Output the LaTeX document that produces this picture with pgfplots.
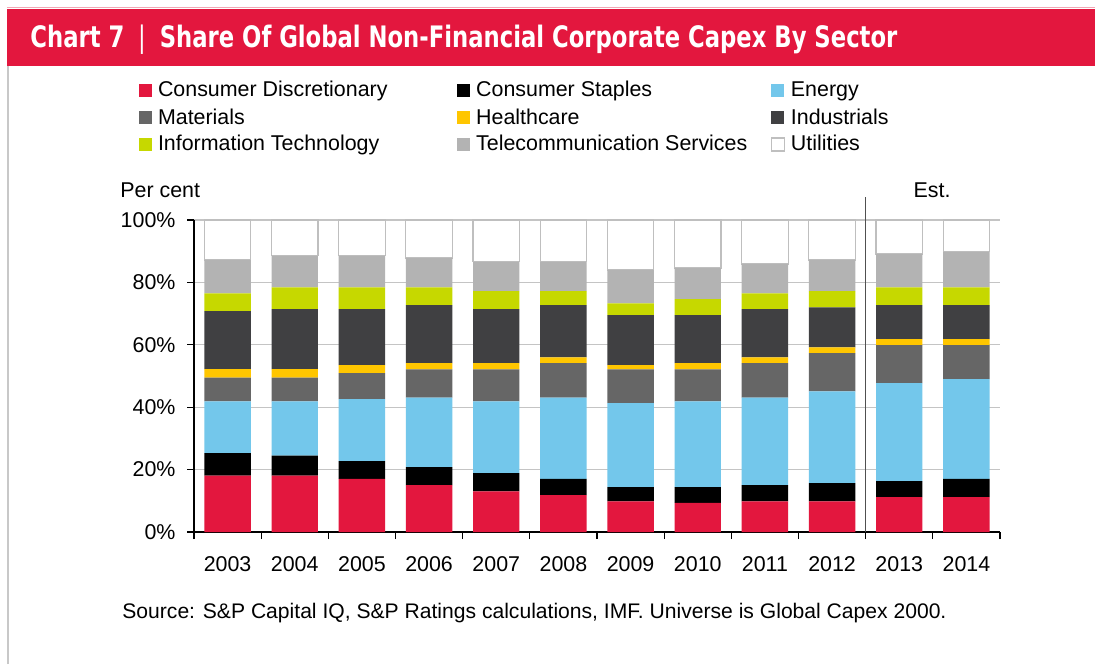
\documentclass[border=0pt]{standalone}
\usepackage{pgfplots}
\pgfplotsset{compat=1.18}
\usepackage{pgfplotstable}
\usepackage{fontspec}
\setmainfont{Liberation Sans}
\newfontfamily\titlefont{DejaVu Sans Condensed}

\definecolor{banner}{HTML}{E3173E}
\definecolor{pinkline}{HTML}{F3A6B4}
\definecolor{framegrey}{HTML}{C8C8C8}
\definecolor{cd}{HTML}{E3173E}
\definecolor{cs}{HTML}{000000}
\definecolor{en}{HTML}{73C7EB}
\definecolor{mat}{HTML}{666666}
\definecolor{hc}{HTML}{FFC600}
\definecolor{ind}{HTML}{404042}
\definecolor{it}{HTML}{C6D800}
\definecolor{tel}{HTML}{B3B3B3}
\definecolor{utilgrey}{HTML}{BFBFBF}
\definecolor{gridgrey}{HTML}{C4C4C4}
\definecolor{sepline}{HTML}{505050}

\pgfplotstableread{
x  CD   CS  En   Mat  HC  Ind  IT  Tel  Util
0  18.1 7.2 16.6 7.6  2.7 18.6 5.7 10.7 12.8
1  18.1 6.4 17.4 7.6  2.7 19.2 7.0 10.1 11.5
2  17.0 5.7 19.9 8.3  2.6 17.9 7.0 10.1 11.5
3  15.0 5.8 22.3 9.0  2.0 18.6 5.7 9.4  12.2
4  13.0 5.9 23.0 10.2 2.0 17.3 5.8 9.4  13.4
5  11.8 5.2 26.1 11.0 1.9 16.7 4.5 9.4  13.4
6  9.8  4.6 26.9 10.8 1.4 16.0 3.8 10.7 16.0
7  9.3  5.1 27.5 10.2 2.0 15.4 5.1 10.0 15.4
8  9.8  5.2 28.1 11.0 1.9 15.4 5.1 9.4  14.1
9  9.8  5.9 29.4 12.2 1.9 12.8 5.2 10.0 12.8
10 11.2 5.1 31.4 12.2 1.9 10.9 5.7 10.7 10.9
11 11.2 5.8 32.0 10.9 1.9 10.9 5.7 11.4 10.2
}\capex

\pgfplotsset{
  sqleg/.style={legend image code/.code={\path[##1] (0pt,0pt) rectangle (6.5pt,6.5pt);}},
}

\begin{document}
\fontsize{10.7pt}{12.8pt}\selectfont
\begin{tikzpicture}
\useasboundingbox (0,0) rectangle (547.5pt,332pt);
\fill[white] (0,0) rectangle (547.5pt,332pt);
\fill[banner] (3.5pt,299pt) rectangle (547.5pt,327.5pt);
\draw[pinkline, line width=0.5pt] (3.5pt,328pt) -- (547.5pt,328pt);
\draw[framegrey, line width=1pt] (3.75pt,0pt) -- (3.75pt,299pt);
\node[anchor=base west, inner sep=0pt, text=white] at (15pt,308pt)
  {\scalebox{1}[1.17]{\resizebox{433.5pt}{!}{\titlefont\bfseries\fontsize{14pt}{16pt}\selectfont Chart 7\hspace{0.55em}{\mdseries|}\hspace{0.55em}Share Of Global Non-Financial Corporate Capex By Sector}}};

\begin{axis}[
  at={(97pt,66pt)}, anchor=south west,
  scale only axis, width=403pt, height=156pt,
  ybar stacked, bar width=23.2pt,
  xmin=-0.5, xmax=11.5, ymin=0, ymax=100,
  axis x line*=bottom, axis y line*=left,
  axis line style={black, line width=0.8pt},
  tick align=outside,
  xtick={0,...,11},
  xticklabels={2003,2004,2005,2006,2007,2008,2009,2010,2011,2012,2013,2014},
  xticklabel style={yshift=-5pt},
  major x tick style={draw=none},
  minor xtick={-0.5,0.5,...,11.5},
  minor x tick style={black, line width=0.6pt},
  ytick={0,20,...,100},
  yticklabels={0\%,20\%,40\%,60\%,80\%,100\%},
  yticklabel style={xshift=-2pt},
  y tick style={black, line width=0.6pt},
  major tick length=3.5pt, minor tick length=3.5pt,
  ymajorgrids, grid style={gridgrey, line width=0.6pt},
  clip=false,
  legend columns=3,
  legend cell align=left,
  legend style={
    at={(-0.0682,1.4455)}, anchor=north west,
    draw=none, fill=none, inner sep=0pt, outer sep=0pt,
    row sep=3pt,
    nodes={inner sep=0pt, text height=8pt, text depth=2.5pt, anchor=base west},
    /tikz/every odd column/.append style={column sep=3pt},
    /tikz/column 2/.style={column sep=34.8pt},
    /tikz/column 4/.style={column sep=11.7pt},
  },
]
\addplot[sqleg, fill=cd, draw=none] table[x=x, y=CD] {\capex};
\addlegendentry{Consumer Discretionary}
\addplot[sqleg, fill=cs, draw=none] table[x=x, y=CS] {\capex};
\addlegendentry{Consumer Staples}
\addplot[sqleg, fill=en, draw=none] table[x=x, y=En] {\capex};
\addlegendentry{Energy}
\addplot[sqleg, fill=mat, draw=none] table[x=x, y=Mat] {\capex};
\addlegendentry{Materials}
\addplot[sqleg, fill=hc, draw=none] table[x=x, y=HC] {\capex};
\addlegendentry{Healthcare}
\addplot[sqleg, fill=ind, draw=none] table[x=x, y=Ind] {\capex};
\addlegendentry{Industrials}
\addplot[sqleg, fill=it, draw=none] table[x=x, y=IT] {\capex};
\addlegendentry{Information Technology}
\addplot[sqleg, fill=tel, draw=none] table[x=x, y=Tel] {\capex};
\addlegendentry{Telecommunication Services}
\addplot[sqleg, fill=white, draw=utilgrey, line width=0.6pt] table[x=x, y=Util] {\capex};
\addlegendentry{Utilities}
\draw[sepline, line width=0.7pt] (axis cs:9.5,0) -- (axis cs:9.5,107.4);
\end{axis}

\node[anchor=base west, inner sep=0pt] at (60pt,233pt) {Per cent};
\node[anchor=base, inner sep=0pt] at (466pt,233pt) {Est.};
\node[anchor=base west, inner sep=0pt] at (61pt,23pt) {\fontsize{10.55pt}{12.6pt}\selectfont Source: S\&P Capital IQ, S\&P Ratings calculations, IMF. Universe is Global Capex 2000.};
\end{tikzpicture}
\end{document}
